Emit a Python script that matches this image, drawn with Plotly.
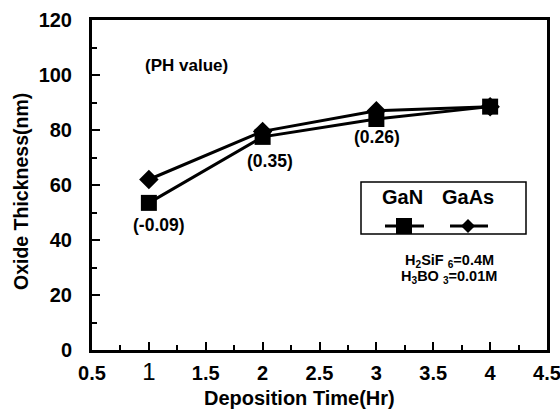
import plotly.graph_objects as go

# ---- data ----
time_hr = [1, 2, 3, 4]
gan_thickness = [53.5, 77.5, 84, 88.5]
gaas_thickness = [62, 79.5, 87, 88.5]
ph_labels = ["(-0.09)", "(0.35)", "(0.26)"]
ph_x = [1, 2, 3]
ph_y = [53.5, 77.5, 84]
x_tickvals = [0.5, 1, 1.5, 2, 2.5, 3, 3.5, 4, 4.5]
x_ticktext = ["0.5", "<span style='font-weight:normal;font-size:24px'>1</span>",
              "1.5", "2", "2.5", "3", "3.5", "4", "4.5"]
y_tickvals = [0, 20, 40, 60, 80, 100, 120]

FONT = "Liberation Sans"
L, R, T, B = 92, 13, 20, 62
W, H = 560, 412
PW, PH = W - L - R, H - T - B


def px(x):
    return (x - L) / PW


def py(y):
    return (H - B - y) / PH


fig = go.Figure()
fig.add_trace(go.Scatter(x=time_hr, y=gaas_thickness, mode="lines+markers",
                         line=dict(color="black", width=3),
                         marker=dict(symbol="diamond", size=15, color="black"),
                         name="GaAs", showlegend=False))
fig.add_trace(go.Scatter(x=time_hr, y=gan_thickness, mode="lines+markers",
                         line=dict(color="black", width=3),
                         marker=dict(symbol="square", size=16, color="black"),
                         name="GaN", showlegend=False))


def note(x, y, text, size, xref="paper", yref="paper", **kw):
    return dict(x=x, y=y, xref=xref, yref=yref, text=text, showarrow=False,
                xanchor="center", yanchor="middle",
                font=dict(family=FONT, size=size, color="black", weight="bold"), **kw)


annotations = []
offsets = [(10, -22), (7, -24), (1, -18)]
for t, xv, yv, (dx, dy) in zip(ph_labels, ph_x, ph_y, offsets):
    annotations.append(note(xv, yv, t, 17.5, xref="x", yref="y", xshift=dx, yshift=dy))

annotations.append(note(px(186), py(65), "(PH value)", 17))
annotations.append(note(px(402), py(197), "GaN", 20))
annotations.append(note(px(468), py(197), "GaAs", 20))
annotations.append(note(px(449), py(261), "H<sub>2</sub>SiF <sub>6</sub>=0.4M", 14.5))
annotations.append(note(px(449), py(277), "H<sub>3</sub>BO <sub>3</sub>=0.01M", 14.5))
annotations.append(note(px(299), py(398), "Deposition Time(Hr)", 20))
annotations.append(note(px(21), py(192), "Oxide Thickness(nm)", 19.5, textangle=-90))

shapes = [
    dict(type="rect", xref="paper", yref="paper", x0=px(361), x1=px(526), y0=py(182), y1=py(234),
         line=dict(color="black", width=1.5), fillcolor="white", layer="below"),
    dict(type="line", xref="paper", yref="paper", x0=px(385), x1=px(424), y0=py(226), y1=py(226),
         line=dict(color="black", width=3)),
    dict(type="rect", xref="paper", yref="paper", x0=px(396), x1=px(412), y0=py(218), y1=py(234),
         line=dict(color="black", width=0), fillcolor="black"),
    dict(type="line", xref="paper", yref="paper", x0=px(450), x1=px(488), y0=py(226), y1=py(226),
         line=dict(color="black", width=3)),
    dict(type="path", xref="paper", yref="paper",
         path=f"M {px(468)} {py(219)} L {px(475)} {py(226)} L {px(468)} {py(233)} L {px(461)} {py(226)} Z",
         line=dict(color="black", width=0), fillcolor="black"),
]

fig.update_layout(
    width=W, height=H, margin=dict(l=L, r=R, t=T, b=B),
    paper_bgcolor="white", plot_bgcolor="white",
    font=dict(family=FONT, color="black"),
    annotations=annotations, shapes=shapes,
    xaxis=dict(range=[0.5, 4.5], tickvals=x_tickvals, ticktext=x_ticktext, automargin=False,
               ticklabeloverflow="allow",
               ticks="inside", ticklen=8, tickwidth=1.5, tickcolor="black",
               minor=dict(ticks="inside", ticklen=5, tickwidth=1.5, tickcolor="black", dtick=0.25, tick0=0.5),
               showline=True, linewidth=3, linecolor="black", mirror=True, showgrid=False, zeroline=False,
               tickfont=dict(family=FONT, size=20, color="black", weight="bold"),
               ticklabelstandoff=3),
    yaxis=dict(range=[0, 120], tickvals=y_tickvals, automargin=False,
               ticklabeloverflow="allow",
               ticks="inside", ticklen=8, tickwidth=1.5, tickcolor="black",
               minor=dict(ticks="inside", ticklen=5, tickwidth=1.5, tickcolor="black", dtick=10),
               showline=True, linewidth=3, linecolor="black", mirror=True, showgrid=False, zeroline=False,
               tickfont=dict(family=FONT, size=20, color="black", weight="bold"),
               ticklabelstandoff=13),
)

fig.write_html("out.html")
